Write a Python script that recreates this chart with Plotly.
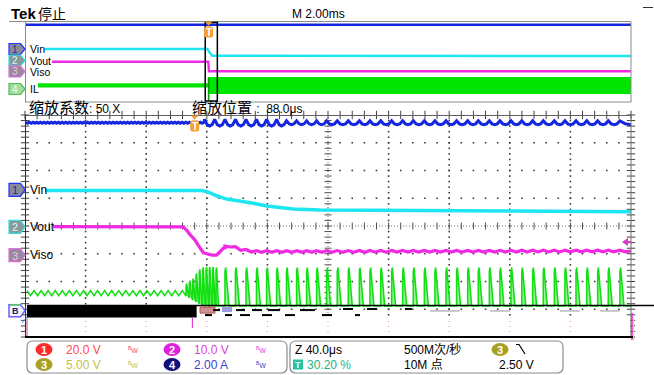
import numpy as np
import plotly.graph_objects as go

W, H = 654, 375
FONT = "Liberation Sans, Noto Sans CJK SC, sans-serif"

# ---------------- time bases ----------------
MAIN_MS = [-6.06, 13.94]      # main record: 2.00 ms/div, trigger at 0
ZOOM_US = [-112.0, 288.0]     # zoom window: 40.0 us/div, zoom position 88.0 us
DIVS = [-4.0, 4.0]            # 8 vertical divisions

# ---------------- zoom window traces (screen divisions vs us) ----------------
vin_t = [-98.8, 5.0, 9.0, 14.5, 21.1, 29.9, 38.7, 47.5, 56.3, 65.1, 82.7, 150.0, 288.0]
vin_v = [1.28, 1.28, 1.22, 1.09, 0.97, 0.90, 0.82, 0.72, 0.66, 0.61, 0.58, 0.55, 0.51]

vout_t = [-93.5, -8.0, -5.3, -3.1, 0.2, 1.3, 5.7, 10.1, 14.5, 18.9, 21.1, 25.5, 29.9, 38.7, 288.0]
vout_v = [-0.02, -0.02, -0.14, -0.32, -0.50, -0.62, -0.96, -1.05, -1.05, -0.80, -0.71, -0.74, -0.84, -0.92, -0.90]

VBUS_LEVEL = 3.72
VBUS_PRE_SWING = 0.02
vbus_post_peaks_t = [6.5, 13.2]          # ripple peaks before the regular switching
vbus_swing_early = 0.12
vbus_swing_late = 0.07

# inductor current: ramp-up spikes right after the trigger
il_ramp_t = [-5.7, -3.55, -1.3, 0.87, 3.05, 5.3, 7.5, 9.65, 11.9, 14.1]
il_ramp_top = [-2.20, -2.09, -2.01, -1.83, -1.68, -1.61, -1.59, -1.60, -1.60, -1.62]
il_ramp_base = [-2.52, -2.59, -2.67, -2.74, -2.81, -2.88, -2.88, -2.88, -2.88, -2.88]
# regular switching pulses (rising edges, us)
il_sw_t = [20.0, 26.9, 33.9, 40.8, 47.5, 54.1, 60.6, 67.3, 73.9, 80.5, 87.1, 94.1,
           101.4, 108.7, 115.7, 122.8, 130.0, 137.3, 144.3, 151.6, 158.6, 165.9,
           172.9, 180.2, 187.2, 194.5, 201.5, 208.8, 215.9, 223.1, 230.1, 237.4,
           244.4, 251.7, 258.8, 266.0, 273.0, 280.7]
IL_SW_TOP = -1.65
IL_SW_BASE = -2.88
IL_PULSE_W = 2.6
IL_PRE_LEVEL = -2.42
IL_PRE_SWING = 0.09
IL_PRE_STEP = 2.33

# ---------------- main record traces (divisions vs ms) ----------------
main_vbus_t = [-6.06, 13.94]
main_vbus_v = [3.72, 3.72]
main_vin_t = [-5.43, -0.04, 0.02, 0.12, 13.94]
main_vin_v = [1.30, 1.30, 1.00, 0.62, 0.60]
main_vout_t = [-5.17, -0.01, 0.01, 13.94]
main_vout_v = [0.02, 0.02, -0.92, -0.92]
main_il_t = [-5.63, -0.01, -0.01, 13.94]
main_il_hi = [-2.18, -2.18, -1.55, -1.55]
main_il_lo = [-2.55, -2.55, -3.20, -3.20]
MAIN_IL_DIP = -3.85

# channel reference markers
ref_ids = ["1", "2", "3", "4"]
ref_names = ["Vin", "Vout", "Viso", "IL"]
main_ref_div = [1.30, 0.15, -0.95, -2.70]
zoom_ref_div = [1.30, -0.03, -1.05, -3.05]

# serial/bus lane fragments under the zoom grid: (t0 us, t1 us, div)
bus_dark = [(12.1, 16.7, -3.03), (27.3, 33.2, -3.03), (37.8, 44.4, -3.03), (48.4, 56.3, -3.03),
            (69.5, 79.4, -3.03), (97.9, 104.5, -2.99), (113.7, 120.3, -2.99), (138.8, 143.4, -2.99),
            (6.8, 11.4, -3.21), (20.0, 24.6, -3.21), (29.9, 36.5, -3.21), (44.4, 51.0, -3.21),
            (59.6, 66.2, -3.21), (84.0, 90.6, -3.21), (105.8, 109.1, -3.21)]
bus_light = [(155.3, 175.1, -3.06), (194.9, 208.1, -3.06), (241.1, 254.3, -3.06), (267.5, 280.7, -3.06)]

# status readout
ch_scale = [("1", "20.0 V", "#ff2a2a", "#ff4a4a"), ("2", "10.0 V", "#e020dc", "#e040e0"),
            ("3", "5.00 V", "#a8a024", "#c8c040"), ("4", "2.00 A", "#10107a", "#4040c8")]
HORIZ = "Z 40.0\u03bcs"
RATE = "500M次/秒"
REC = "10M 点"
TRIG_LEVEL = "2.50 V"
TRIG_POS = "30.20 %"

# ---------------- pixel helpers ----------------
PL, PR = 25, 631
M_TOP, M_BOT = 22, 102
Z_TOP, Z_BOT = 115, 337


def fx(px):
    return px / W


def fy(py):
    return 1 - py / H


def zx(t):
    return PL + (t - ZOOM_US[0]) / (ZOOM_US[1] - ZOOM_US[0]) * (PR - PL)


def zy(d):
    return Z_TOP + (DIVS[1] - d) / 8 * (Z_BOT - Z_TOP)


def mx(t):
    return PL + (t - MAIN_MS[0]) / (MAIN_MS[1] - MAIN_MS[0]) * (PR - PL)


def my(d):
    return M_TOP + (DIVS[1] - d) / 8 * (M_BOT - M_TOP)


def path(pts, close=True):
    s = "M " + " L ".join(f"{fx(x):.5f},{fy(y):.5f}" for x, y in pts)
    return s + (" Z" if close else "")


def rrect(x0, y0, x1, y1, r):
    P = lambda x, y: f"{fx(x):.5f},{fy(y):.5f}"
    return (f"M {P(x0 + r, y0)} L {P(x1 - r, y0)} Q {P(x1, y0)} {P(x1, y0 + r)} "
            f"L {P(x1, y1 - r)} Q {P(x1, y1)} {P(x1 - r, y1)} L {P(x0 + r, y1)} "
            f"Q {P(x0, y1)} {P(x0, y1 - r)} L {P(x0, y0 + r)} Q {P(x0, y0)} {P(x0 + r, y0)} Z")


fig = go.Figure()
shapes, annos = [], []


def text(x, y, s, size=12, color="black", xanchor="left", bold=False, family=FONT):
    if bold:
        s = f"<b>{s}</b>"
    annos.append(dict(x=fx(x), y=fy(y), xref="paper", yref="paper", text=s, showarrow=False,
                      xanchor=xanchor, yanchor="middle", font=dict(size=size, color=color, family=family)))


def hline(x0, x1, y, color, width=1, dash=None, layer="above"):
    shapes.append(dict(type="line", xref="paper", yref="paper", x0=fx(x0), x1=fx(x1), y0=fy(y), y1=fy(y),
                       line=dict(color=color, width=width, dash=dash), layer=layer))


def vline(x, y0, y1, color, width=1, layer="above"):
    shapes.append(dict(type="line", xref="paper", yref="paper", x0=fx(x), x1=fx(x), y0=fy(y0), y1=fy(y1),
                       line=dict(color=color, width=width), layer=layer))


# ================= zoom window graticule =================
step_minor_t = (ZOOM_US[1] - ZOOM_US[0]) / 50
t_major = [ZOOM_US[0] + 40 * i for i in range(11)]
t_minor = [ZOOM_US[0] + step_minor_t * i for i in range(51)]
y_minor = [DIVS[0] + 0.2 * i for i in range(41)]
t_center = t_major[5]

gx, gy = [], []
for yv in [-3, -2, -1, 1, 2, 3]:
    for tv in t_minor[1:-1]:
        gx.append(tv); gy.append(yv)
for tv in t_major[1:-1]:
    if tv == t_center:
        continue
    for yv in y_minor[1:-1]:
        gx.append(tv); gy.append(yv)
fig.add_trace(go.Scatter(x=gx, y=gy, mode="markers", xaxis="x2", yaxis="y2",
                         marker=dict(symbol="square", size=1.6, color="#3c3c3c", line=dict(width=0))))
# centre cross
fig.add_trace(go.Scatter(x=ZOOM_US, y=[0, 0], mode="lines", xaxis="x2", yaxis="y2",
                         line=dict(color="#707070", width=1, dash="1px,2px")))
fig.add_trace(go.Scatter(x=[t_center, t_center], y=DIVS, mode="lines", xaxis="x2", yaxis="y2",
                         line=dict(color="#707070", width=1, dash="1px,2px")))
fig.add_trace(go.Scatter(x=t_minor, y=[0] * len(t_minor), mode="markers", xaxis="x2", yaxis="y2",
                         marker=dict(symbol="line-ns", size=5, line=dict(width=1, color="#505050"))))
fig.add_trace(go.Scatter(x=[t_center] * len(y_minor), y=y_minor, mode="markers", xaxis="x2", yaxis="y2",
                         marker=dict(symbol="line-ew", size=5, line=dict(width=1, color="#505050"))))
# ticks along frame edges
fig.add_trace(go.Scatter(x=[ZOOM_US[0]] * len(y_minor) + [ZOOM_US[1]] * len(y_minor), y=y_minor + y_minor,
                         mode="markers", xaxis="x2", yaxis="y2", cliponaxis=False,
                         marker=dict(symbol="line-ew", size=6, line=dict(width=1, color="#404040"))))
fig.add_trace(go.Scatter(x=t_minor, y=[DIVS[1]] * len(t_minor), mode="markers", xaxis="x2", yaxis="y2",
                         cliponaxis=False,
                         marker=dict(symbol="line-ns", size=6, line=dict(width=1, color="#404040"))))

# ================= zoom window waveforms =================
# inductor current
fill_t, fill_v = [], []
line_t, line_v = [], []
t = ZOOM_US[0] + 1.3
k = 0
while t < il_ramp_t[0]:
    line_t.append(t)
    line_v.append(IL_PRE_LEVEL + (IL_PRE_SWING if k % 2 == 0 else -IL_PRE_SWING))
    t += IL_PRE_STEP
    k += 1
for tp, top, base in zip(il_ramp_t, il_ramp_top, il_ramp_base):
    w = 1.6
    fill_t += [tp, tp, tp + 0.35, tp + w, None]
    fill_v += [base, top, top + 0.12, base, None]
    line_t += [tp, tp, tp + 0.35, tp + w]
    line_v += [base, top, top + 0.12, base]
for tp in il_sw_t:
    fill_t += [tp, tp, tp + 0.45, tp + IL_PULSE_W, None]
    fill_v += [IL_SW_BASE, IL_SW_TOP, IL_SW_TOP + 0.15, IL_SW_BASE, None]
    line_t += [tp, tp, tp + 0.45, tp + IL_PULSE_W]
    line_v += [IL_SW_BASE, IL_SW_TOP, IL_SW_TOP + 0.15, IL_SW_BASE]
line_t.append(ZOOM_US[1]); line_v.append(IL_SW_BASE)
fig.add_trace(go.Scatter(x=fill_t, y=fill_v, mode="lines", fill="toself", xaxis="x2", yaxis="y2",
                         fillcolor="#a4f2a4", line=dict(width=0, color="#a4f2a4")))
fig.add_trace(go.Scatter(x=line_t, y=line_v, mode="lines", xaxis="x2", yaxis="y2",
                         line=dict(color="#12e012", width=1.6)))

# Vin
fig.add_trace(go.Scatter(x=vin_t, y=vin_v, mode="lines", xaxis="x2", yaxis="y2",
                         line=dict(color="#1ee6f0", width=3.5)))

# Vout with switching ripple after the trigger
vo_t = list(np.linspace(vout_t[0], il_sw_t[0], 120))
for tp in il_sw_t:
    vo_t += [tp, tp + 3.5]
vo_t.append(ZOOM_US[1])
vo_v = list(np.interp(vo_t, vout_t, vout_v))
for i, tv in enumerate(vo_t):
    if tv >= il_sw_t[0] and i < len(vo_t) - 1:
        vo_v[i] += 0.03 if (i % 2 == 0) else -0.03
fig.add_trace(go.Scatter(x=vo_t, y=vo_v, mode="lines", xaxis="x2", yaxis="y2",
                         line=dict(color="#f02ae2", width=3.2)))

# top (blue) trace
vb_t, vb_v = [], []
t = ZOOM_US[0] + 0.5
k = 0
while t < vbus_post_peaks_t[0]:
    vb_t.append(t)
    vb_v.append(VBUS_LEVEL + (VBUS_PRE_SWING if k % 2 == 0 else -VBUS_PRE_SWING))
    t += 1.2
    k += 1
peaks = vbus_post_peaks_t + il_sw_t + [ZOOM_US[1] + 7]
for a, b in zip(peaks[:-1], peaks[1:]):
    s = vbus_swing_early if a < 60 else vbus_swing_late
    d = b - a
    vb_t += [a, a + 0.25 * d, a + 0.5 * d, a + 0.75 * d]
    vb_v += [VBUS_LEVEL + s, VBUS_LEVEL - 0.55 * s, VBUS_LEVEL - s, VBUS_LEVEL - 0.55 * s]
fig.add_trace(go.Scatter(x=vb_t, y=vb_v, mode="lines", xaxis="x2", yaxis="y2",
                         line=dict(color="#1426e0", width=3)))

# ================= main record waveforms =================
fig.add_trace(go.Scatter(x=main_il_t, y=main_il_lo, mode="lines", xaxis="x", yaxis="y",
                         line=dict(width=0, color="#00e400")))
fig.add_trace(go.Scatter(x=main_il_t, y=main_il_hi, mode="lines", xaxis="x", yaxis="y",
                         fill="tonexty", fillcolor="#00e400", line=dict(width=1, color="#00e400")))
fig.add_trace(go.Scatter(x=[0.0, 0.0], y=[main_il_hi[-1], MAIN_IL_DIP], mode="lines", xaxis="x", yaxis="y",
                         line=dict(width=1.6, color="#00a000")))
fig.add_trace(go.Scatter(x=main_vbus_t, y=main_vbus_v, mode="lines", xaxis="x", yaxis="y",
                         line=dict(width=2.6, color="#1426e0")))
fig.add_trace(go.Scatter(x=main_vin_t, y=main_vin_v, mode="lines", xaxis="x", yaxis="y",
                         line=dict(width=2.4, color="#1ee6f0")))
fig.add_trace(go.Scatter(x=main_vout_t, y=main_vout_v, mode="lines", xaxis="x", yaxis="y",
                         line=dict(width=2.4, color="#f02ae2")))

# ================= frames =================
hline(9, PR, 21.5, "#8a8a8a")
hline(PL, PR, M_BOT, "#8a8a8a")
vline(PL + 0.5, 21.5, M_BOT, "#8a8a8a")
vline(PR, 21.5, M_BOT, "#8a8a8a")
# zoomed region box in the main record
shapes.append(dict(type="rect", xref="x", yref="paper", x0=ZOOM_US[0] / 1000, x1=ZOOM_US[1] / 1000,
                   y0=fy(101), y1=fy(22.5), line=dict(color="black", width=1.5), layer="above"))

hline(PL, PR, Z_TOP + 0.5, "#606060")
vline(PL + 0.5, Z_TOP, Z_BOT, "#303030")
vline(PR, Z_TOP, Z_BOT, "#707070")

# bus lane
hline(27, W, 305.5, "black", 1.5)
shapes.append(dict(type="rect", xref="x2", yref="y2", x0=ZOOM_US[0] + 1.3, x1=1.3, y0=-3.30, y1=-2.88,
                   fillcolor="black", line=dict(width=0), layer="above"))
shapes.append(dict(type="rect", xref="x2", yref="y2", x0=3.5, x1=13.4, y0=-3.14, y1=-2.92,
                   fillcolor="#d49090", line=dict(width=0.8, color="#a04040"), layer="above"))
shapes.append(dict(type="rect", xref="x2", yref="y2", x0=18.0, x1=24.6, y0=-3.10, y1=-2.92,
                   fillcolor="#9c9ce4", line=dict(width=0), layer="above"))
for t0, t1, d in bus_dark:
    shapes.append(dict(type="line", xref="x2", yref="y2", x0=t0, x1=t1, y0=d, y1=d,
                       line=dict(color="black", width=2), layer="above"))
for t0, t1, d in bus_light:
    shapes.append(dict(type="line", xref="x2", yref="y2", x0=t0, x1=t1, y0=d, y1=d,
                       line=dict(color="#b8b8b8", width=1.5), layer="above"))
shapes.append(dict(type="rect", xref="paper", yref="paper", x0=fx(PL + 1), x1=fx(PR - 1), y0=fy(335.5),
                   y1=fy(318), fillcolor="white", line=dict(width=0), layer="above"))
for tv in t_major[1:-1]:
    for yy in (321, 326, 331):
        shapes.append(dict(type="rect", xref="paper", yref="paper", x0=fx(zx(tv) - 0.6), x1=fx(zx(tv) + 0.6),
                           y0=fy(yy + 1), y1=fy(yy), fillcolor="#e8a0c8", line=dict(width=0), layer="above"))
vline(zx(-1.5), 318, 328, "#e040e0", 1.2)
vline(27, 317, 337, "#d060a0", 1.2)
vline(632, 313, 340, "#e020e0", 1.5)
vline(633.5, 318, 340, "#f0e040", 1.2)
hline(PL, 633, 337, "black", 2.2)

# trigger level arrow (right edge)
shapes.append(dict(type="path", path=path([(622, 242), (628, 238), (628, 246)]), xref="paper", yref="paper",
                   fillcolor="#d43cc8", line=dict(width=0), layer="above"))
hline(627, 631, 242, "#d43cc8", 2)

# ================= trigger markers =================
for xc, ytop in ((mx(0.0), 21.5), (zx(0.0), 115.5)):
    shapes.append(dict(type="path", path=path([(xc - 4, ytop), (xc + 4, ytop), (xc, ytop + 4)]),
                       xref="paper", yref="paper", fillcolor="#f5a030", line=dict(width=0), layer="above"))
    shapes.append(dict(type="path", path=rrect(xc - 4.5, ytop + 5, xc + 4.5, ytop + 16, 2.5),
                       xref="paper", yref="paper", fillcolor="#f5a030", line=dict(width=0), layer="above"))
    text(xc, ytop + 10.5, "T", 10, "white", "center", bold=True)

# ================= channel reference markers =================
ref_style = [("#8a8a98", "#2030ff", "#2030a0"), ("#8a9898", "#30e0e0", "#d0ffff"),
             ("#988a98", "#e070e0", "#f0c0f0"), ("#a0dca0", "#50c050", "#f0fff0")]
for i, (rid, name) in enumerate(zip(ref_ids, ref_names)):
    fill, border, digit = ref_style[i]
    yc = my(main_ref_div[i])
    shapes.append(dict(type="path", path=path([(9, yc - 5.5), (20.5, yc - 5.5), (25, yc), (20.5, yc + 5.5), (9, yc + 5.5)]),
                       xref="paper", yref="paper", fillcolor=fill, line=dict(color=border, width=1.2),
                       layer="above"))
    text(15, yc + 0.5, rid, 10, digit, "center")
    text(27.5, yc, name, 10.5, "black")
for i in range(3):
    fill, border, digit = ref_style[i]
    yc = zy(zoom_ref_div[i])
    shapes.append(dict(type="path", path=path([(9, yc - 6.5), (20.5, yc - 6.5), (25, yc), (20.5, yc + 6.5), (9, yc + 6.5)]),
                       xref="paper", yref="paper", fillcolor=fill, line=dict(color=border, width=1.2),
                       layer="above"))
    text(15, yc + 0.5, ref_ids[i], 11, digit, "center")
    text(27.5, yc, ref_names[i], 12, "black")
yc = zy(zoom_ref_div[3])
shapes.append(dict(type="path", path=path([(9, yc - 6), (20.5, yc - 6), (25, yc), (20.5, yc + 6), (9, yc + 6)]),
                   xref="paper", yref="paper", fillcolor="#f4f4ff", line=dict(color="#6a5cff", width=1.5),
                   layer="above"))
hline(10, 20, yc - 6, "#50d050", 1.5)
text(15, yc + 0.5, "B", 9, "#202060", "center", bold=True)
shapes.append(dict(type="line", xref="paper", yref="paper", x0=fx(27), y0=fy(317), x1=fx(22), y1=fy(323),
                   line=dict(color="#40a0e0", width=1), layer="above"))

# ================= header text =================
text(9, 14, "Tek", 15, "black", bold=True)
text(36, 14, "停止", 14, "black")
text(290, 14, "M 2.00ms", 12, "black")
hline(643, 653, 7.5, "#303030", 1)
text(27, 107.5, "缩放系数<span style='font-size:12px'>: 50 X</span>", 15, "black")
text(190, 107.5, "缩放位置 <span style='font-size:12px'>:  88.0\u03bcs</span>", 15, "black")

# ================= status readout =================
shapes.append(dict(type="path", path=rrect(27, 341, 287, 373, 6), xref="paper", yref="paper",
                   line=dict(color="#8c8c8c", width=1.2), fillcolor="rgba(0,0,0,0)", layer="above"))
shapes.append(dict(type="path", path=rrect(290, 341, 563, 373, 6), xref="paper", yref="paper",
                   line=dict(color="#8c8c8c", width=1.2), fillcolor="rgba(0,0,0,0)", layer="above"))
rows = [349.5, 364.5]
cols = [44, 172]
for i, (cid, val, pill, tcol) in enumerate(ch_scale):
    xc = cols[i % 2]
    row = rows[i // 2]
    shapes.append(dict(type="circle", xref="paper", yref="paper", x0=fx(xc - 8.5), x1=fx(xc + 8.5),
                       y0=fy(row + 6.5), y1=fy(row - 6.5), fillcolor=pill, line=dict(width=0), layer="above"))
    text(xc, row + 0.5, cid, 11, "white", "center", bold=True)
    text(xc + 20, row, val, 12, tcol)
    text(xc + 82, row, "<sup>B</sup>W", 7, tcol)

text(293, rows[0], HORIZ, 12, "black")
text(402, rows[0], RATE, 12, "black")
shapes.append(dict(type="circle", xref="paper", yref="paper", x0=fx(491.5), x1=fx(508.5),
                   y0=fy(rows[0] + 6.5), y1=fy(rows[0] - 6.5), fillcolor="#a8a024", line=dict(width=0),
                   layer="above"))
text(500, rows[0] + 0.5, "3", 11, "white", "center", bold=True)
shapes.append(dict(type="path", path=path([(516, 344.5), (519, 344.5), (525, 354)], close=False),
                   xref="paper", yref="paper", line=dict(color="black", width=1.2), layer="above"))
shapes.append(dict(type="rect", xref="paper", yref="paper", x0=fx(293), x1=fx(303), y0=fy(rows[1] + 5),
                   y1=fy(rows[1] - 5), fillcolor="#22c4a0", line=dict(width=0), layer="above"))
text(298, rows[1] + 0.5, "T", 9, "white", "center", bold=True)
text(305, rows[1], TRIG_POS, 12, "#18b48a")
text(402, rows[1], REC, 12, "black")
text(497, rows[1], TRIG_LEVEL, 12, "black")

# ================= layout =================
hidden = dict(visible=False, showgrid=False, zeroline=False, fixedrange=True)
fig.update_layout(
    width=W, height=H,
    margin=dict(l=0, r=0, t=0, b=0, pad=0),
    paper_bgcolor="white", plot_bgcolor="white",
    showlegend=False,
    xaxis=dict(domain=[fx(PL), fx(PR)], range=MAIN_MS, anchor="y", **hidden),
    yaxis=dict(domain=[fy(M_BOT), fy(M_TOP)], range=DIVS, anchor="x", **hidden),
    xaxis2=dict(domain=[fx(PL), fx(PR)], range=ZOOM_US, anchor="y2", **hidden),
    yaxis2=dict(domain=[fy(Z_BOT), fy(Z_TOP)], range=DIVS, anchor="x2", **hidden),
    shapes=shapes,
    annotations=annos,
)

fig.write_html("out.html")
